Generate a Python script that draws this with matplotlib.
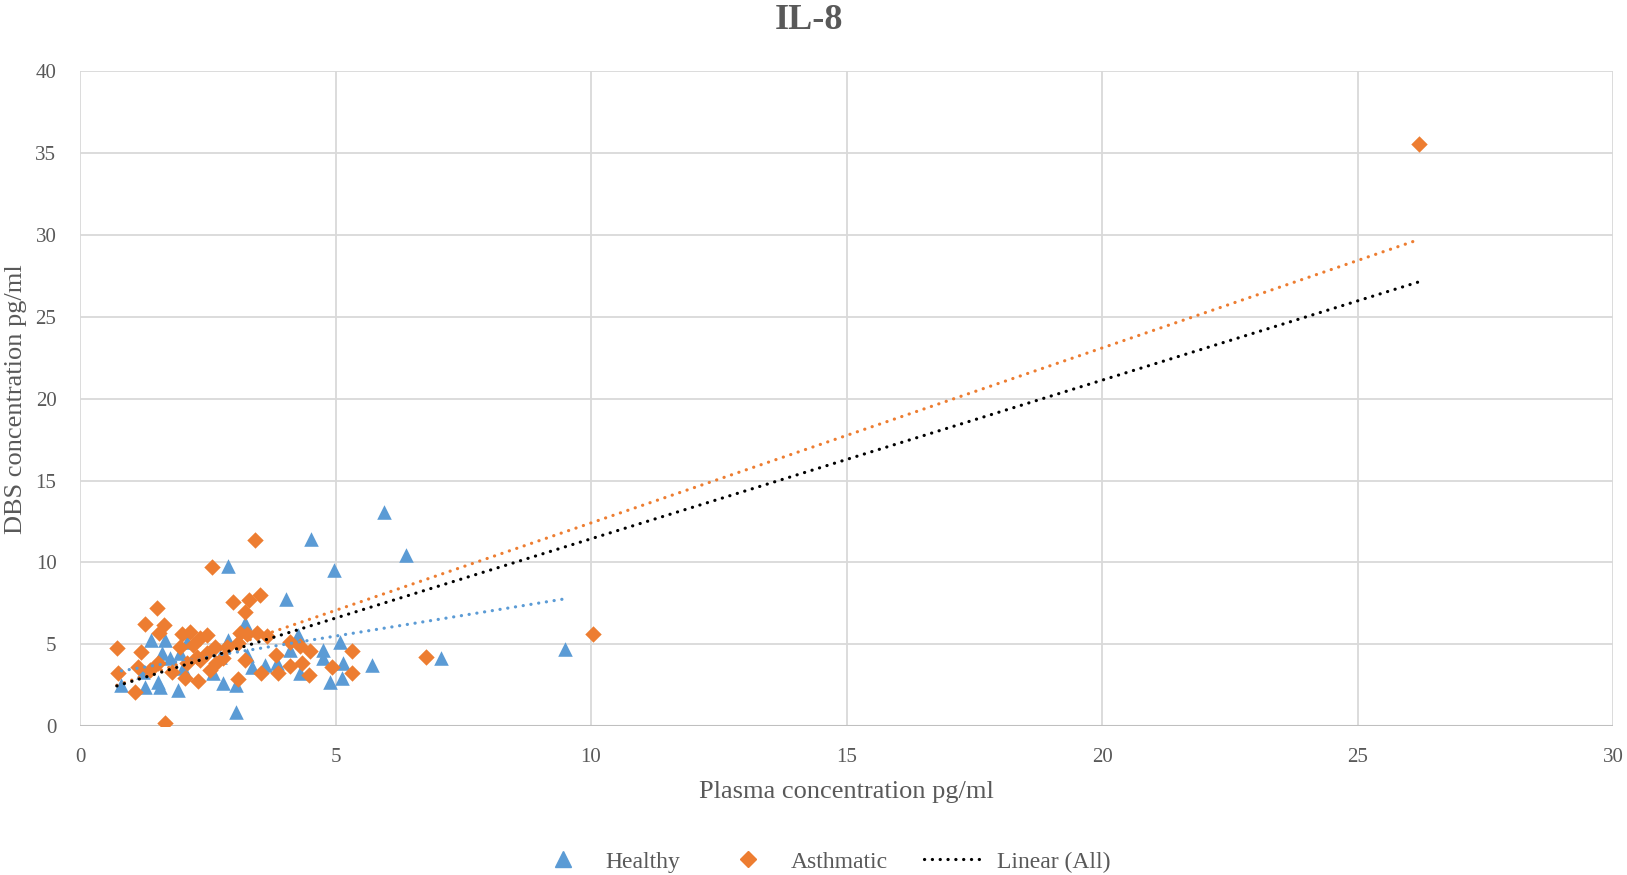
import matplotlib
matplotlib.use("Agg")
import matplotlib.pyplot as plt
import numpy as np
from matplotlib.lines import Line2D

plt.rcParams['font.family'] = ['Liberation Serif', 'DejaVu Serif']

title = "IL-8"
xlabel = "Plasma concentration pg/ml"
ylabel = "DBS concentration pg/ml"
xticks = [0, 5, 10, 15, 20, 25, 30]
yticks = [0, 5, 10, 15, 20, 25, 30, 35, 40]

healthy_x = [5.95, 4.52, 6.37, 2.90, 4.97, 4.04, 3.22, 1.39, 1.66, 1.60, 1.76, 1.96, 2.09, 2.90,
             3.26, 3.36, 3.62, 3.85, 4.11, 4.27, 4.30, 4.76, 4.76, 5.09, 5.15, 5.12, 4.89, 5.72,
             0.81, 1.27, 1.56, 1.53, 1.92, 2.80, 3.06, 3.05, 1.24, 2.02, 2.61, 2.74, 7.06, 9.49]
healthy_y = [13.1, 11.4, 10.45, 9.8, 9.55, 7.75, 6.27, 5.26, 5.26, 4.44, 4.14, 4.44, 5.16, 5.26,
             4.34, 3.63, 3.73, 3.83, 4.65, 5.56, 3.22, 4.65, 4.14, 5.16, 3.83, 2.91, 2.71, 3.73,
             2.51, 2.40, 2.40, 2.71, 2.20, 2.61, 2.51, 0.88, 3.32, 3.52, 3.22, 4.24, 4.14, 4.69]

asthma_x = [3.42, 2.59, 3.00, 3.31, 3.52, 3.22, 1.51, 1.27, 1.64, 1.55, 0.72, 1.19, 0.75, 1.08,
            1.14, 1.66, 3.10, 2.30, 3.55, 3.88, 4.11, 4.34, 4.48, 4.94, 5.33, 5.32, 4.50, 4.30,
            4.10, 3.83, 3.65, 3.46, 3.26, 3.13, 3.10, 3.23, 2.87, 2.64, 2.48, 2.35, 2.15, 1.99,
            1.96, 2.22, 2.28, 2.09, 2.05, 1.79, 1.53, 1.37, 2.54, 2.67, 2.80, 2.35, 2.48,
            6.77, 10.03, 26.2]
asthma_y = [11.37, 9.74, 7.56, 7.70, 7.99, 6.99, 7.19, 6.21, 6.17, 5.66, 4.79, 4.50, 3.26, 2.10,
            3.63, 0.16, 2.85, 2.75, 3.26, 3.26, 3.67, 3.83, 3.12, 3.63, 4.58, 3.26, 4.58, 4.91,
            5.11, 4.34, 5.52, 5.66, 5.62, 5.66, 5.05, 4.03, 4.85, 4.85, 5.56, 5.36, 5.77, 5.62,
            4.85, 4.95, 4.24, 3.83, 2.91, 3.32, 3.83, 3.42, 3.42, 3.83, 4.13, 4.03, 4.44,
            4.24, 5.62, 35.55]

BLUE = "#5B9BD5"
ORANGE = "#ED7D31"
GRAY = "#595959"
GRID = "#D9D9D9"

fig = plt.figure(figsize=(16.27, 8.75), dpi=100)
ax = fig.add_axes([0.0492, 0.1703, 0.9422, 0.748])

ax.scatter(healthy_x, healthy_y, marker='^', s=110, color=BLUE, linewidths=0, zorder=3)
ax.scatter(asthma_x, asthma_y, marker='D', s=70, color=ORANGE, linewidths=0, zorder=4)

def trend(xs, ys, color):
    xs = np.asarray(xs); ys = np.asarray(ys)
    m, b = np.polyfit(xs, ys, 1)
    xr = np.array([xs.min(), xs.max()])
    ax.plot(xr, m * xr + b, color=color, lw=2.3, linestyle=(0, (0.05, 2.4)),
            dash_capstyle='round', zorder=5)

trend(healthy_x, healthy_y, BLUE)
trend(asthma_x, asthma_y, ORANGE)
trend(healthy_x + asthma_x, healthy_y + asthma_y, "black")

ax.set_xlim(0, 30)
ax.set_ylim(0, 40)
ax.set_xticks(xticks)
ax.set_yticks(yticks)
ax.grid(True, color=GRID, lw=1.3)
ax.set_axisbelow(True)
for s in ax.spines.values():
    s.set_visible(False)
ax.axhline(0, color="#BFBFBF", lw=1.5, zorder=1)
ax.tick_params(axis='x', length=0, labelsize=15, labelcolor=GRAY, pad=16)
ax.tick_params(axis='y', length=0, labelsize=15, labelcolor=GRAY, pad=17)

ax.set_xlabel(xlabel, fontsize=19, color=GRAY, labelpad=10)
ax.set_ylabel(ylabel, fontsize=19, color=GRAY, labelpad=6)
fig.text(0.4975, 0.977, title, fontsize=26, fontweight='bold', color=GRAY, ha='center', va='center')

handles = [
    Line2D([], [], marker='^', color=BLUE, linestyle='None', markersize=11),
    Line2D([], [], marker='D', color=ORANGE, linestyle='None', markersize=8),
    Line2D([], [], color='black', lw=2.3, linestyle=(0, (0.05, 2.4)), dash_capstyle='round'),
]
fig.legend(handles, ["Healthy", "Asthmatic", "Linear (All)"], loc='center',
           bbox_to_anchor=(0.505, 0.015), ncol=3, frameon=False, fontsize=17,
           labelcolor=GRAY, handlelength=2.6, columnspacing=1.55, handletextpad=0.5)

fig.savefig("out.png", dpi=100)
